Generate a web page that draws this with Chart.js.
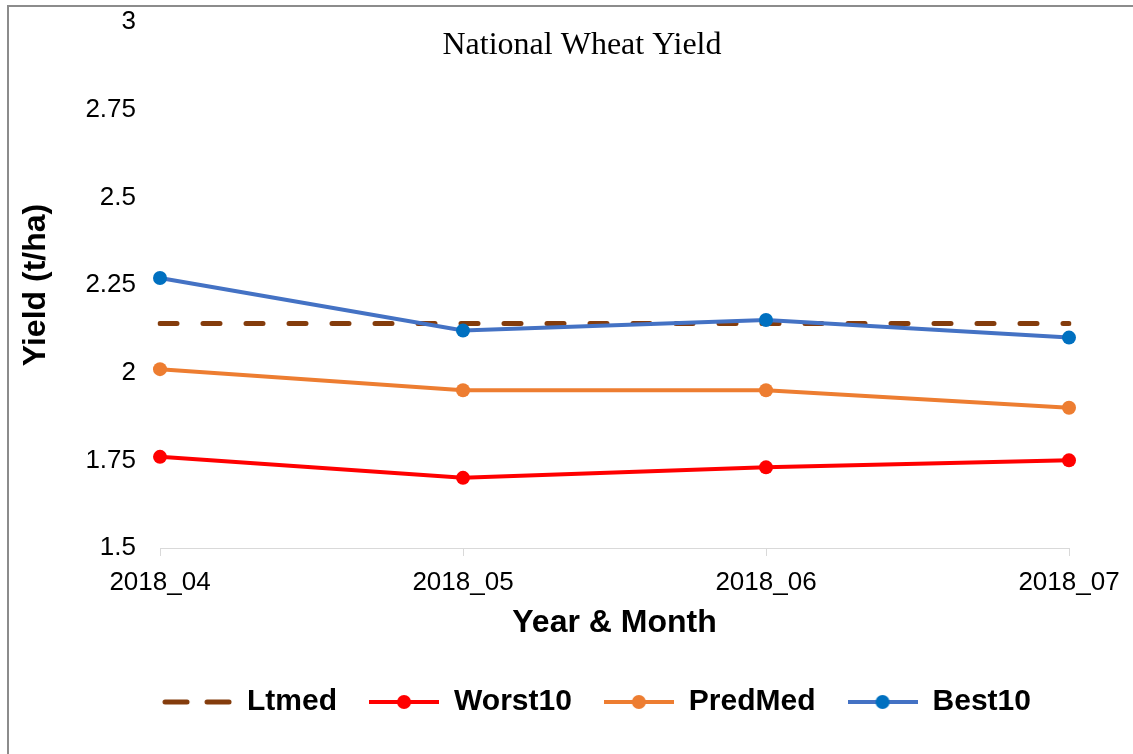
<!DOCTYPE html>
<html><head><meta charset="utf-8">
<script src="https://cdn.jsdelivr.net/npm/chart.js@4.4.1/dist/chart.umd.min.js"></script>
<style>
html,body{margin:0;padding:0;background:#fff;}
#wrap{position:relative;width:1133px;height:754px;overflow:hidden;}
#frame{position:absolute;left:7px;top:5px;width:1140px;height:760px;border-left:2px solid #8c8c8c;border-top:2px solid #8c8c8c;box-sizing:border-box;pointer-events:none;}
canvas{display:block;}
</style></head><body>
<div id="wrap"><canvas id="c" width="1133" height="754"></canvas><div id="frame"></div></div>
<script>
const titleText = 'National Wheat Yield';
const categories = ['2018_04', '2018_05', '2018_06', '2018_07'];
const seriesNames = ['Ltmed', 'Worst10', 'PredMed', 'Best10'];
const ltmed = [2.14, 2.14, 2.14, 2.14];
const worst10 = [1.76, 1.70, 1.73, 1.75];
const predMed = [2.01, 1.95, 1.95, 1.90];
const best10 = [2.27, 2.12, 2.15, 2.10];
const yTicks = [1.5, 1.75, 2, 2.25, 2.5, 2.75, 3];

function legendIcon(color, markerColor, dashed) {
  const c = document.createElement('canvas');
  c.width = 70; c.height = 18;
  const g = c.getContext('2d');
  g.strokeStyle = color;
  g.lineCap = dashed ? 'round' : 'butt';
  g.lineWidth = dashed ? 5 : 4;
  g.beginPath();
  if (dashed) {
    g.moveTo(3, 9); g.lineTo(25, 9);
    g.moveTo(45, 9); g.lineTo(67, 9);
  } else {
    g.moveTo(0, 9); g.lineTo(70, 9);
  }
  g.stroke();
  if (markerColor) {
    g.fillStyle = markerColor;
    g.beginPath(); g.arc(35, 9, 7, 0, Math.PI * 2); g.fill();
  }
  return c;
}

const innerTitle = {
  id: 'innerTitle',
  afterDraw(chart) {
    const ctx = chart.ctx;
    ctx.save();
    ctx.font = '32px "Liberation Serif"';
    ctx.fillStyle = '#000';
    ctx.textAlign = 'center';
    ctx.textBaseline = 'middle';
    ctx.fillText(titleText, 582, 46);
    ctx.restore();
  }
};
const legendShift = {
  id: 'legendShift',
  afterLayout(chart) {
    if (chart.legend) { chart.legend.left += 62; chart.legend.right += 62; }
  }
};

const icons = [
  legendIcon('#843C0C', null, true),
  legendIcon('#FF0000', '#FF0000', false),
  legendIcon('#ED7D31', '#ED7D31', false),
  legendIcon('#4472C4', '#0070C0', false)
];

const sansFont = '"Liberation Sans", Arial, sans-serif';

new Chart(document.getElementById('c'), {
  type: 'line',
  data: {
    labels: categories,
    datasets: [
      { label: seriesNames[0], data: ltmed, borderColor: '#843C0C', borderWidth: 5, borderDash: [17, 26], borderCapStyle: 'round', pointRadius: 0, order: 4 },
      { label: seriesNames[1], data: worst10, borderColor: '#FF0000', backgroundColor: '#FF0000', borderWidth: 4, pointRadius: 7, pointBorderWidth: 0, order: 3 },
      { label: seriesNames[2], data: predMed, borderColor: '#ED7D31', backgroundColor: '#ED7D31', borderWidth: 4, pointRadius: 7, pointBorderWidth: 0, order: 2 },
      { label: seriesNames[3], data: best10, borderColor: '#4472C4', backgroundColor: '#0070C0', pointBackgroundColor: '#0070C0', borderWidth: 4, pointRadius: 7, pointBorderWidth: 0, order: 1 }
    ]
  },
  options: {
    responsive: false,
    animation: false,
    devicePixelRatio: 1,
    layout: { padding: { top: 22, left: 0, right: 64, bottom: 27 } },
    elements: { line: { tension: 0 } },
    plugins: {
      tooltip: { enabled: false },
      legend: {
        position: 'bottom',
        labels: {
          usePointStyle: true,
          pointStyleWidth: 70,
          boxWidth: 70,
          boxHeight: 18,
          padding: 32,
          color: '#000',
          font: { family: sansFont, size: 30, weight: 'bold' },
          sort: (a, b) => a.datasetIndex - b.datasetIndex,
          generateLabels: (chart) => chart.data.datasets.map((ds, i) => ({
            text: ds.label, datasetIndex: i, pointStyle: icons[i], fontColor: '#000',
            lineWidth: 0, strokeStyle: 'transparent', fillStyle: 'transparent', hidden: false
          }))
        }
      }
    },
    scales: {
      x: {
        afterFit: (s) => { s.height = 107; },
        border: { display: true, color: '#d9d9d9', width: 1 },
        grid: { display: true, drawOnChartArea: false, drawTicks: true, tickLength: 8, color: '#d9d9d9' },
        ticks: { color: '#000', padding: 11, maxRotation: 0, font: { family: sansFont, size: 26 } },
        title: { display: true, text: 'Year & Month', color: '#000', padding: { top: 0, bottom: 13 }, font: { family: sansFont, size: 32, weight: 'bold' } }
      },
      y: {
        min: 1.5, max: 3,
        afterFit: (s) => { s.width = 160; s.paddingTop = 0; s.paddingBottom = 0; },
        afterBuildTicks: (s) => { s.ticks = yTicks.map(v => ({ value: v })); },
        border: { display: false },
        grid: { display: false, drawTicks: false },
        ticks: { color: '#000', padding: 24, callback: (v) => String(v), font: { family: sansFont, size: 26 } },
        title: { display: true, text: 'Yield (t/ha)', color: '#000', padding: { top: 17, bottom: 0 }, font: { family: sansFont, size: 32, weight: 'bold' } }
      }
    }
  },
  plugins: [innerTitle, legendShift]
});
</script>
</body></html>
